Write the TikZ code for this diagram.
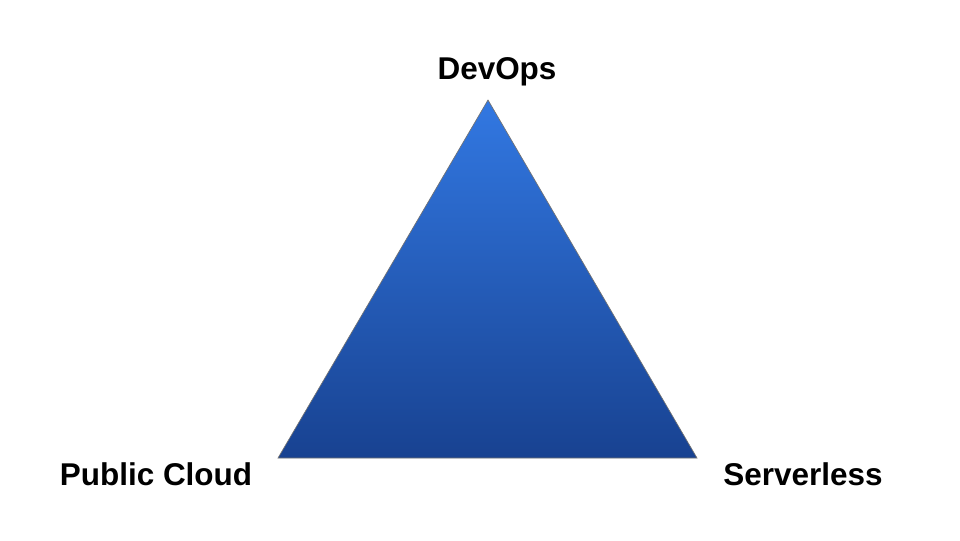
\documentclass[tikz,border=0pt]{standalone}
\usepackage{fontspec}
\setmainfont{Liberation Sans}
\definecolor{apexblue}{RGB}{50,120,226}
\definecolor{baseblue}{RGB}{24,66,145}
\begin{document}
\begin{tikzpicture}[x=0.75pt,y=-0.75pt,
  corner label/.style={anchor=base,inner sep=0pt,
  font=\fontsize{23.6}{28}\selectfont\bfseries},
  pyramid/.style={top color=apexblue,bottom color=baseblue,
  draw=black!55,line width=0.5pt}]

  \useasboundingbox (0,0) rectangle (960,540);

  \coordinate (top) at (488,100);
  \coordinate (left) at (278,458);
  \coordinate (right) at (697,458);

  \shade[pyramid] (top) -- (right) -- (left) -- cycle;

  \node[corner label] (devops) at (497,79) {DevOps};
  \node[corner label] (cloud) at (156,485) {Public Cloud};
  \node[corner label] (serverless) at (803,485) {Serverless};

\end{tikzpicture}
\end{document}
